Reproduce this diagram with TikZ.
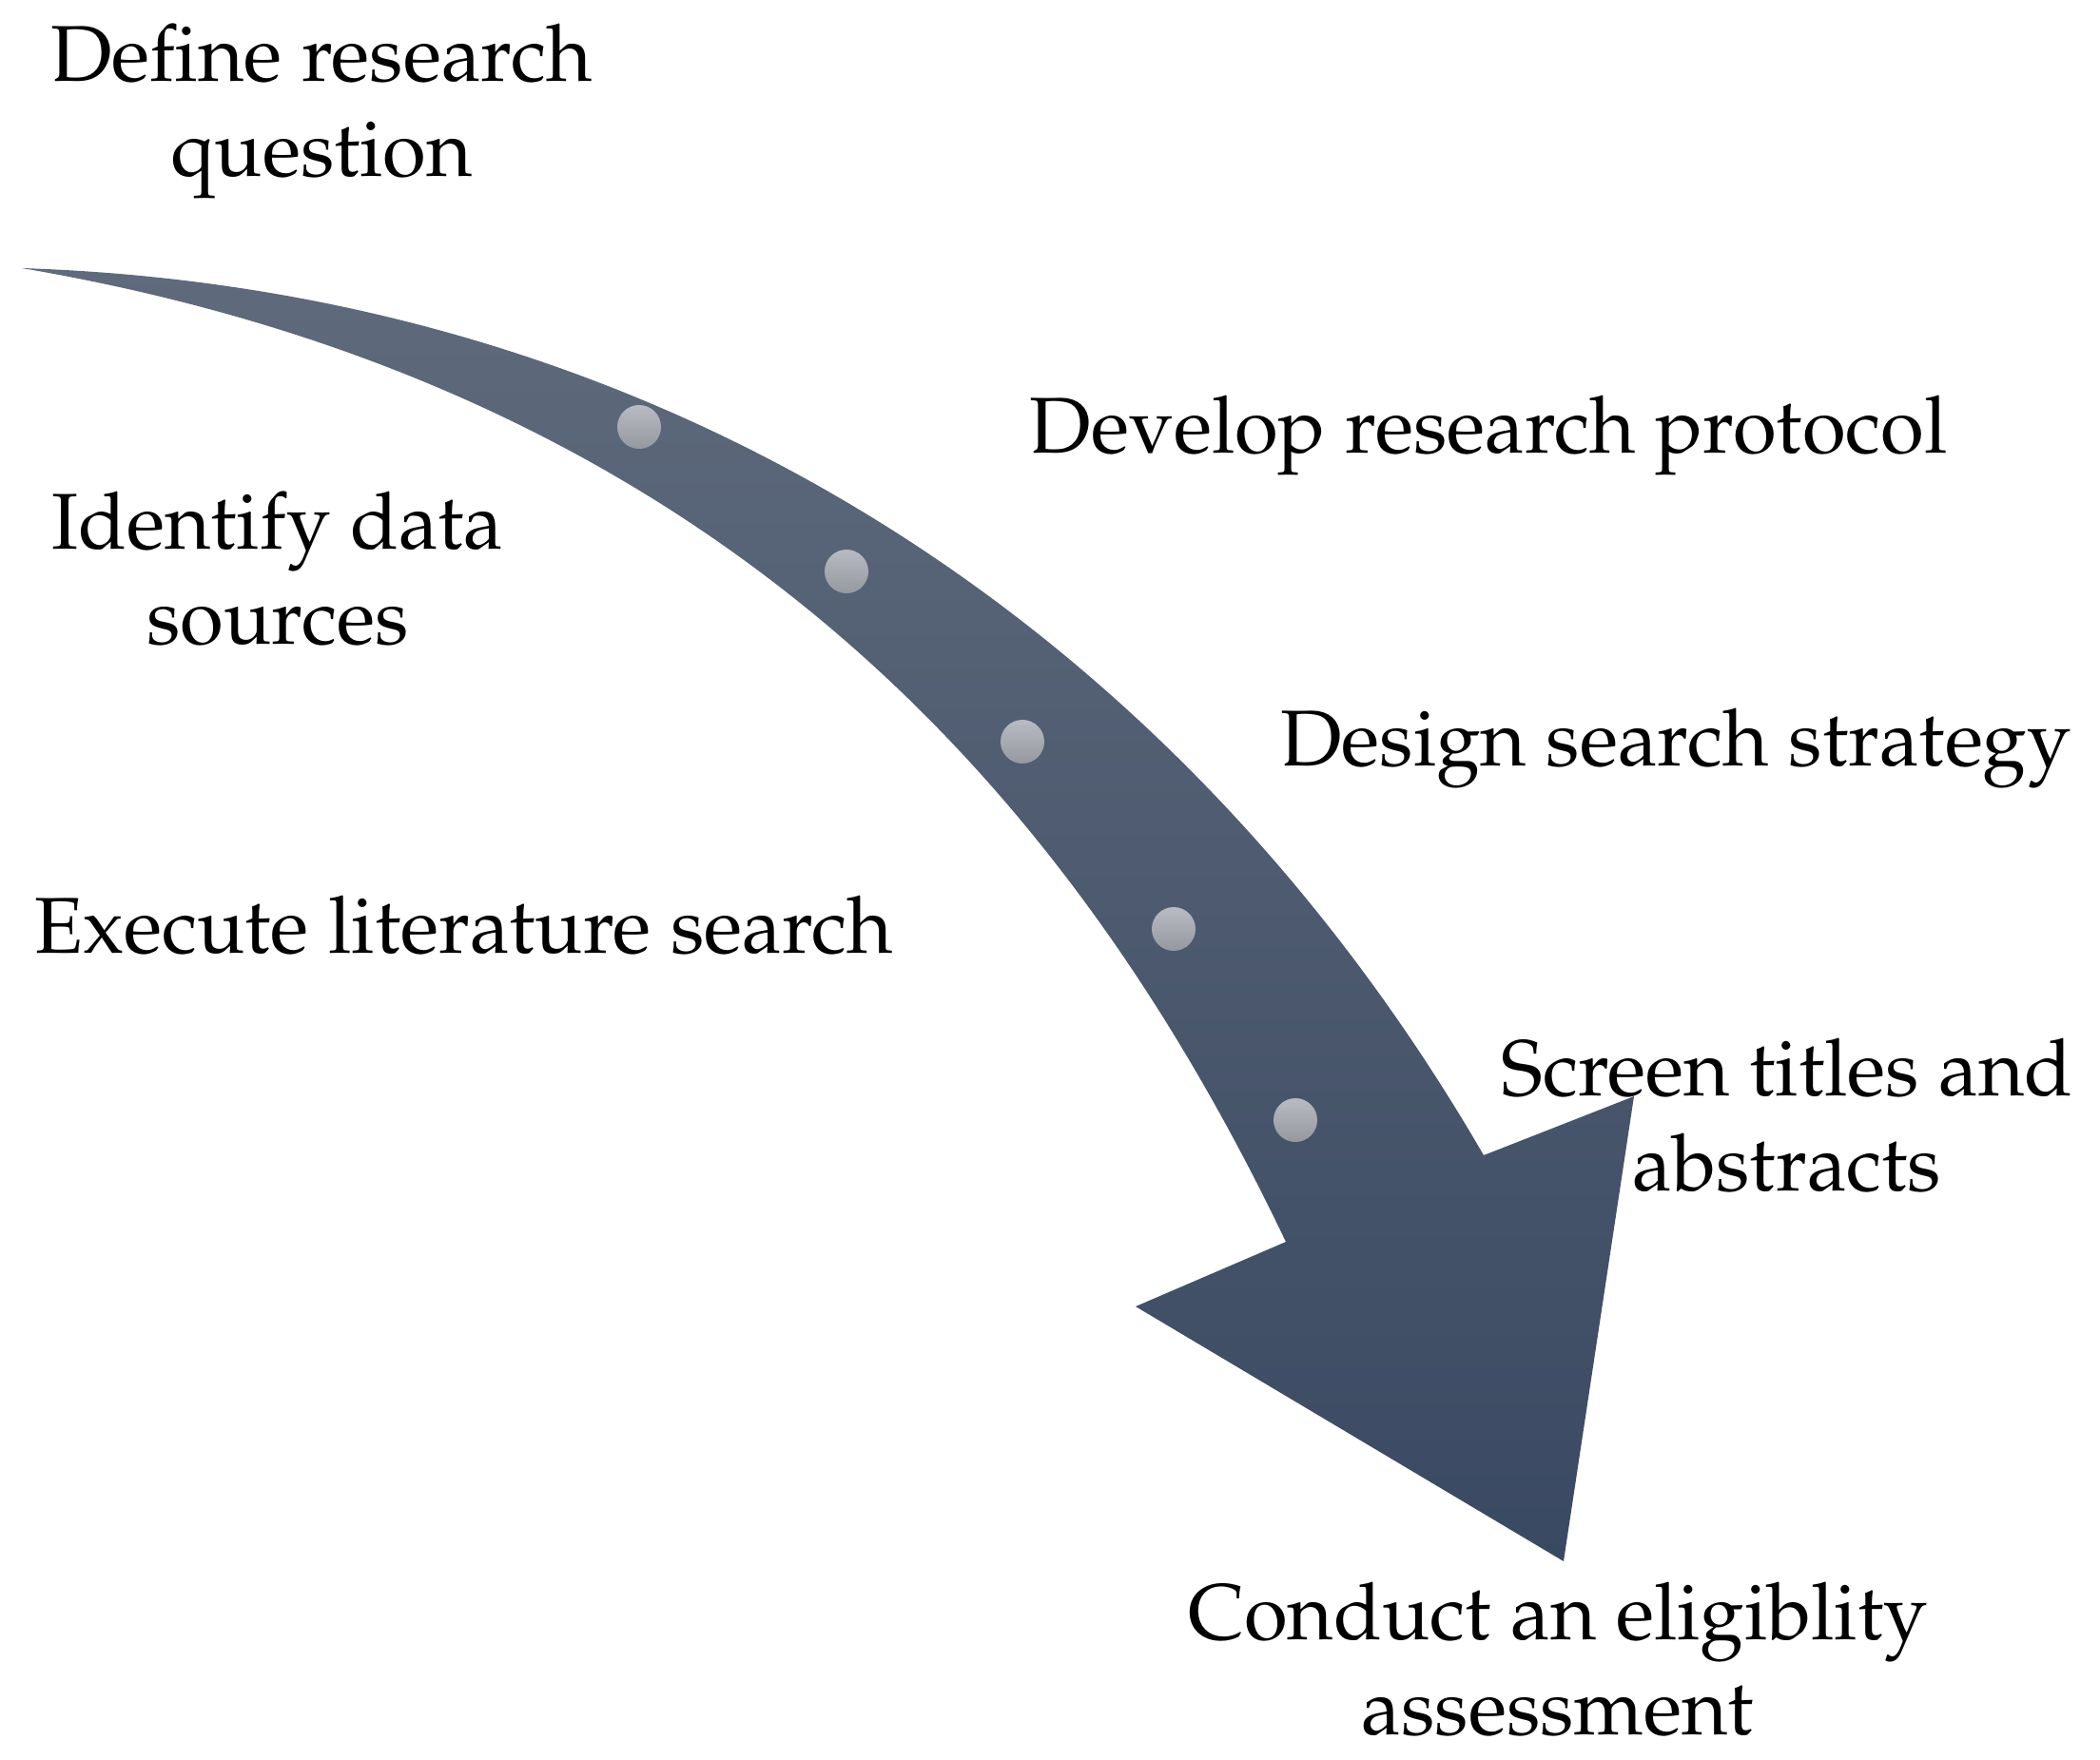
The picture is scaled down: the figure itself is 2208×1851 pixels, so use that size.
\documentclass[tikz,border=0pt]{standalone}
\usepackage[T1]{fontenc}
\renewcommand{\rmdefault}{ppl}
\usepackage{tikz}
\definecolor{arrowtop}{RGB}{95,106,124}
\definecolor{arrowbot}{RGB}{58,73,98}
\definecolor{dottop}{RGB}{184,187,195}
\definecolor{dotbot}{RGB}{150,152,160}

\begin{document}
\begin{tikzpicture}[x=0.01cm,y=-0.01cm,
        stage/.style={align=center,inner sep=0pt,anchor=base,font=\fontsize{23.7}{28.2}\selectfont}]
        \useasboundingbox (0,0) rectangle (2208,1851);

        % curved arrow
        \shade[top color=arrowtop,bottom color=arrowbot]
            (23,282) .. controls (773,410) and (1137,856) .. (1352,1306)
            -- (1194,1374) -- (1644,1642) -- (1718,1153) -- (1560,1215)
            .. controls (1250,680) and (720,305) .. (23,282) -- cycle;

        % dots on the arrow
        \foreach \x/\y in {672/449,890/601,1075/780,1234/977,1362/1178}
            \shade[top color=dottop,bottom color=dotbot] (\x,\y) circle (0.23cm);

        % stages (base = last line)
        \node[stage] (define) at (338,185) {Define research\\question};
        \node[stage] (develop) at (1565,476) {Develop research protocol};
        \node[stage] (identify) at (292,677) {Identify data\\sources};
        \node[stage] (design) at (1762,805) {Design search strategy};
        \node[stage] (execute) at (488,1002) {Execute literature search};
        \node[stage] (screen) at (1879,1252) {Screen titles and\\abstracts};
        \node[stage] (conduct) at (1638,1824) {Conduct an eligiblity\\assessment};
    \end{tikzpicture}
\end{document}
